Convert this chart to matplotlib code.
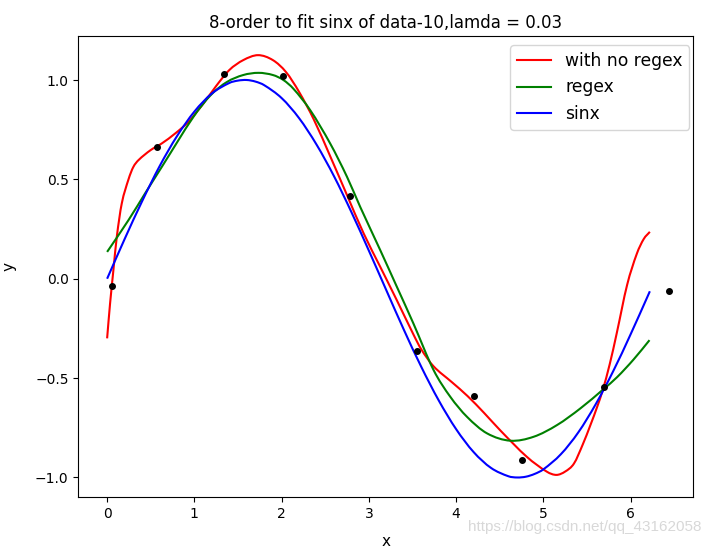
import matplotlib
matplotlib.use("Agg")
import matplotlib.pyplot as plt
from matplotlib.path import Path
from matplotlib.patches import PathPatch
from matplotlib.lines import Line2D

# sample data points
data_x = [0.061, 0.573, 1.342, 2.018, 2.783, 3.555, 4.201, 4.756, 5.70, 6.441]
data_y = [-0.037, 0.665, 1.028, 1.019, 0.417, -0.364, -0.589, -0.912, -0.544, -0.062]

# fit without regularisation
noreg_x = [0, 0.034, 0.072, 0.111, 0.168, 0.245, 0.30, 0.36, 0.498, 0.627, 0.78, 0.933,
           1.10, 1.25, 1.40, 1.56, 1.73, 1.90, 2.05, 2.20, 2.37, 2.56, 2.75, 2.94,
           3.13, 3.32, 3.51, 3.60, 3.74, 3.95, 4.13, 4.32, 4.51, 4.81, 5.04, 5.15, 5.25,
           5.35, 5.45, 5.54, 5.62, 5.68, 5.76, 5.84, 5.96, 6.07, 6.15, 6.22]
noreg_y = [-0.30, -0.124, 0.043, 0.211, 0.379, 0.50, 0.562, 0.597, 0.647, 0.681, 0.731, 0.79,
           0.88, 0.97, 1.05, 1.10, 1.125, 1.10, 1.04, 0.94, 0.80, 0.613, 0.42, 0.228,
           0.06, -0.108, -0.28, -0.355, -0.44, -0.52, -0.59, -0.675, -0.765, -0.896, -0.971,
           -0.987, -0.97, -0.93, -0.835, -0.735, -0.64, -0.56, -0.43, -0.275, -0.03,
           0.125, 0.20, 0.236]

# fit with regularisation
reg_x = [0, 0.245, 0.436, 0.627, 0.99, 1.19, 1.373, 1.56, 1.735, 1.90, 2.02, 2.137, 2.328,
         2.557, 2.749, 2.9, 3.13, 3.32, 3.51, 3.742, 3.933, 4.125, 4.354, 4.622, 4.889,
         5.157, 5.425, 5.69, 5.845, 6.036, 6.216]
reg_y = [0.135, 0.295, 0.43, 0.563, 0.815, 0.925, 0.99, 1.025, 1.036, 1.025, 1.0, 0.955, 0.848,
         0.68, 0.513, 0.362, 0.144, -0.04, -0.225, -0.46, -0.594, -0.695, -0.778, -0.815,
         -0.795, -0.736, -0.652, -0.555, -0.495, -0.405, -0.309]

# sinx curve
sin_x = [0, 0.2, 0.4, 0.6, 0.8, 1.0, 1.2, 1.4, 1.5, 1.6, 1.7, 1.8, 2.0, 2.2, 2.4, 2.6,
         2.8, 3.0, 3.2, 3.4, 3.6, 3.8, 4.0, 4.2, 4.4, 4.6, 4.7, 4.8, 4.9, 5.0, 5.2, 5.4,
         5.6, 5.8, 6.0, 6.2, 6.22]
sin_y = [0, 0.199, 0.389, 0.565, 0.717, 0.841, 0.932, 0.985, 0.997, 1.000, 0.992, 0.974,
         0.909, 0.808, 0.675, 0.516, 0.335, 0.141, -0.058, -0.256, -0.443, -0.612, -0.757,
         -0.872, -0.952, -0.994, -1.000, -0.996, -0.982, -0.959, -0.883, -0.773, -0.631,
         -0.465, -0.279, -0.083, -0.063]


def smooth_path(xs, ys):
    """Smooth Bezier path through the read points (Hermite tangents)."""
    n = len(xs)
    slopes = []
    for i in range(n):
        if i == 0:
            m = (ys[1] - ys[0]) / (xs[1] - xs[0])
        elif i == n - 1:
            m = (ys[-1] - ys[-2]) / (xs[-1] - xs[-2])
        else:
            m = (ys[i + 1] - ys[i - 1]) / (xs[i + 1] - xs[i - 1])
        slopes.append(m)
    verts = [(xs[0], ys[0])]
    codes = [Path.MOVETO]
    for i in range(n - 1):
        h = xs[i + 1] - xs[i]
        verts += [(xs[i] + h / 3, ys[i] + slopes[i] * h / 3),
                  (xs[i + 1] - h / 3, ys[i + 1] - slopes[i + 1] * h / 3),
                  (xs[i + 1], ys[i + 1])]
        codes += [Path.CURVE4] * 3
    return Path(verts, codes)


fig = plt.figure(figsize=(7.12, 5.52), dpi=100)
ax = fig.add_axes([0.110, 0.099, 0.864, 0.836])
ax.plot(data_x, data_y, 'o', color='black', markersize=4, zorder=3)

handles = []
for xs, ys, col, lab in [(noreg_x, noreg_y, 'red', 'with no regex'),
                         (reg_x, reg_y, 'green', 'regex'),
                         (sin_x, sin_y, 'blue', 'sinx')]:
    ax.add_patch(PathPatch(smooth_path(xs, ys), fill=False, edgecolor=col, lw=1.5))
    handles.append(Line2D([], [], color=col, lw=1.5, label=lab))

ax.set_xlim(-0.33, 6.72)
ax.set_ylim(-1.10, 1.222)
ax.set_title('8-order to fit sinx of data-10,lamda = 0.03')
ax.set_xlabel('x', fontsize=11, labelpad=9)
ax.set_ylabel('y', fontsize=11, labelpad=13)
ax.legend(handles=handles, loc='upper right', fontsize=12.3,
          bbox_to_anchor=(0.9935, 0.98), borderaxespad=0)
fig.text(0.985, 0.045, 'https://blog.csdn.net/qq_43162058', ha='right', va='center',
         color='#d8d8d8', fontsize=11, family='Liberation Sans')
fig.savefig('out.png', dpi=100)
